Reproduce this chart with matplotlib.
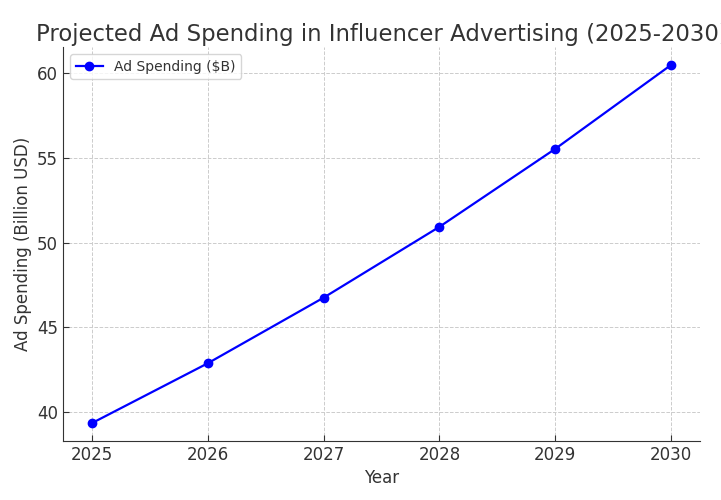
import matplotlib.pyplot as plt

# datos
anios = [2025, 2026, 2027, 2028, 2029, 2030]
gasto = [39.35, 42.88, 46.75, 50.93, 55.53, 60.48]
etiqueta_serie = 'Ad Spending ($B)'

texto = '#333333'
plt.rcParams['font.family'] = 'DejaVu Sans'

fig = plt.figure(figsize=(7.21, 5.0), dpi=100)
ax = fig.add_axes([0.0874, 0.118, 0.8836, 0.788])

ax.plot(anios, gasto, color='blue', marker='o', markersize=6, linewidth=1.6,
        label=etiqueta_serie)

ax.set_title('Projected Ad Spending in Influencer Advertising (2025-2030)',
             fontsize=16.4, color=texto, pad=4)
ax.set_xlabel('Year', fontsize=12, color=texto)
ax.set_ylabel('Ad Spending (Billion USD)', fontsize=12, color=texto)
ax.set_xticks(anios)
ax.tick_params(labelsize=12, colors=texto, direction='in', length=4)
ax.grid(True, linestyle='--', color='#cccccc', linewidth=0.7)
for s in ['top', 'right']:
    ax.spines[s].set_visible(False)
for s in ['left', 'bottom']:
    ax.spines[s].set_color(texto)

leg = ax.legend(loc='upper left', fontsize=10)
for t in leg.get_texts():
    t.set_color(texto)

fig.savefig('out.png', dpi=100)
